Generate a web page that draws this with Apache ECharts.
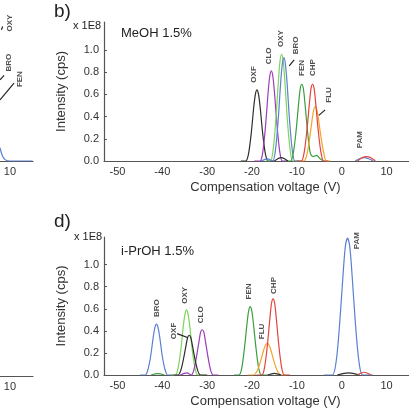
<!DOCTYPE html>
<html>
<head>
<meta charset="utf-8">
<script src="https://cdn.jsdelivr.net/npm/echarts@6/dist/echarts.min.js"></script>
<style>
  html, body { margin: 0; padding: 0; background: #fff; }
  #main { width: 409px; height: 409px; }
</style>
</head>
<body>
<div id="main"></div>
<script>
// axis ticks
var xTicks = [-50, -40, -30, -20, -10, 0, 10];
var yTicks = [0, 0.2, 0.4, 0.6, 0.8, 1.0];
var xTicksPart = [10];

// panel b) MeOH 1.5%  [CoV (V), intensity x1E8]
var bOXF = [[-22.5,0],[-21.4,0],[-20.8,0.06],[-20.2,0.24],[-19.6,0.49],[-19.25,0.60],[-18.9,0.64],[-18.55,0.60],[-18.2,0.49],[-17.6,0.24],[-17.0,0.06],[-16.4,0],[-15,0]];
var bCLO = [[-19.5,0],[-18.2,0],[-17.6,0.08],[-17.0,0.31],[-16.4,0.62],[-16.05,0.76],[-15.7,0.81],[-15.35,0.76],[-15.0,0.62],[-14.4,0.31],[-13.8,0.08],[-13.2,0],[-12,0]];
var bOXY = [[-17,0],[-15.9,0],[-15.3,0.10],[-14.7,0.36],[-14.1,0.73],[-13.75,0.90],[-13.4,0.96],[-13.05,0.90],[-12.7,0.73],[-12.1,0.36],[-11.5,0.10],[-10.9,0],[-9.5,0]];
var bBRO = [[-18,0],[-16.5,0.02],[-15.4,0],[-14.8,0.09],[-14.2,0.35],[-13.6,0.71],[-13.25,0.87],[-12.9,0.93],[-12.55,0.87],[-12.2,0.71],[-11.6,0.35],[-11.0,0.09],[-10.4,0],[-9,0]];
var bFEN = [[-12.5,0],[-11.4,0],[-10.8,0.07],[-10.2,0.26],[-9.6,0.52],[-9.25,0.65],[-8.9,0.69],[-8.55,0.65],[-8.2,0.52],[-7.6,0.26],[-7.0,0.07],[-6.4,0.04],[-5.6,0.05],[-4.8,0.02],[-4,0]];
var bCHP = [[-10,0],[-9.0,0],[-8.4,0.07],[-7.8,0.26],[-7.2,0.52],[-6.85,0.65],[-6.5,0.69],[-6.15,0.65],[-5.8,0.52],[-5.2,0.26],[-4.6,0.07],[-4.0,0],[-3,0]];
var bFLU = [[-9.5,0],[-8.4,0],[-7.8,0.05],[-7.2,0.19],[-6.6,0.37],[-6.25,0.46],[-5.9,0.49],[-5.55,0.46],[-5.2,0.38],[-4.6,0.21],[-4.0,0.07],[-3.4,0],[-2.5,0]];
var bPAMr = [[3.5,0],[4.5,0.03],[5.5,0.04],[6.5,0.03],[7.5,0]];
var bPAMb = [[3,0],[4,0.02],[5,0.03],[6,0.02],[7,0]];
var bSmallK = [[-15,0],[-13.5,0.03],[-12,0]];

// panel d) i-PrOH 1.5%
var dBRO = [[-45,0],[-43.8,0],[-43.2,0.05],[-42.6,0.17],[-42.0,0.35],[-41.65,0.43],[-41.3,0.46],[-40.95,0.43],[-40.6,0.35],[-40.0,0.17],[-39.4,0.05],[-38.8,0],[-37.5,0]];
var dOXY = [[-38,0],[-37.1,0],[-36.5,0.06],[-35.9,0.22],[-35.3,0.45],[-34.95,0.55],[-34.6,0.59],[-34.25,0.55],[-33.9,0.45],[-33.3,0.22],[-32.7,0.06],[-32.1,0],[-31,0]];
var dOXF = [[-37.5,0],[-36.5,0],[-35.9,0.04],[-35.3,0.14],[-34.7,0.27],[-34.35,0.34],[-34.0,0.36],[-33.65,0.34],[-33.3,0.27],[-32.7,0.14],[-32.1,0.04],[-31.5,0],[-30,0]];
var dCLO = [[-36,0],[-34.5,0.02],[-33.6,0],[-33.0,0.04],[-32.4,0.16],[-31.8,0.31],[-31.45,0.39],[-31.1,0.41],[-30.75,0.39],[-30.4,0.31],[-29.8,0.16],[-29.2,0.04],[-28.6,0],[-27.5,0]];
var dFEN = [[-24,0],[-22.9,0],[-22.3,0.06],[-21.7,0.24],[-21.1,0.47],[-20.75,0.58],[-20.4,0.62],[-20.05,0.58],[-19.7,0.47],[-19.1,0.24],[-18.5,0.06],[-17.9,0],[-16.5,0]];
var dFLU = [[-21,0],[-19.7,0],[-18.95,0.03],[-18.2,0.11],[-17.45,0.22],[-17.0,0.27],[-16.6,0.29],[-16.2,0.27],[-15.75,0.22],[-15.0,0.11],[-14.25,0.03],[-13.5,0],[-12.5,0]];
var dCHP = [[-19,0],[-17.8,0],[-17.2,0.07],[-16.6,0.26],[-16.0,0.52],[-15.65,0.65],[-15.3,0.69],[-14.95,0.65],[-14.6,0.52],[-14.0,0.26],[-13.4,0.07],[-12.8,0],[-11.5,0]];
var dPAM = [[-4,0],[-2.1,0],[-1.25,0.12],[-0.45,0.47],[0.35,0.94],[0.83,1.17],[1.3,1.24],[1.77,1.17],[2.25,0.94],[3.05,0.47],[3.85,0.12],[4.7,0],[7,0]];
var dSmallK = [[-1,0],[1.5,0.02],[4,0]];
var dSmallR = [[3.5,0],[5,0.025],[6.5,0]];
var dSmallG = [[-42.5,0],[-41,0.012],[-39.5,0]];
var dSmallK2 = [[-16.5,0],[-15,0.015],[-13.5,0]];

// left (cut-off) panels
var aTail = [[7.8,0.12],[8.3,0.05],[9,0.01],[10,0],[15,0]];

// peak names [name, CoV, intensity] and leader lines
var bNames = [['OXF',-19.6,0.70],['CLO',-16.2,0.865],['OXY',-13.4,1.02],['BRO',-10.2,0.955],['FEN',-8.75,0.76],['CHP',-6.3,0.76],['FLU',-2.8,0.52],['PAM',4.2,0.11]];
var dNames = [['BRO',-41.2,0.52],['OXY',-34.9,0.64],['OXF',-37.3,0.32],['CLO',-31.2,0.465],['FEN',-20.6,0.68],['FLU',-17.6,0.32],['CHP',-15.1,0.73],['PAM',3.5,1.135]];
var aNames = [['OXY',10.0,1.16],['BRO',9.8,0.80],['FEN',12.4,0.66]];
var bLeaders = [[[-11.7,0.855],[-10.6,0.91]],[[-5.1,0.41],[-3.7,0.46]]];
var dLeaders = [[[-36.7,0.375],[-34.4,0.34]]];
var aLeaders = [[[7.8,0.73],[8.7,0.77]],[[7.8,0.55],[10.9,0.70]],[[8.1,1.18],[8.4,1.21]]];

var C = {
  black: '#2e2e2e', purple: '#9c3cb8', lgreen: '#7fd35c', blue: '#5a7fd2',
  green: '#3b9f3f', red: '#e4433b', orange: '#f6a12c'
};
var FONT = '"Liberation Sans", Arial, sans-serif';

var myChart = echarts.init(document.getElementById('main'));

function curve(gi, color, data) {
  return {
    type: 'line', xAxisIndex: gi, yAxisIndex: gi, data: data,
    showSymbol: false, smooth: 0.3, silent: true,
    lineStyle: { color: color, width: 1.2 }
  };
}
function names(gi, list) {
  return {
    type: 'scatter', xAxisIndex: gi, yAxisIndex: gi, symbolSize: 1, silent: true,
    itemStyle: { color: 'transparent' },
    data: list.map(function (n) { return [n[1], n[2], n[0]]; }),
    label: {
      show: true, position: [0, 0], rotate: 90, align: 'left', verticalAlign: 'middle',
      formatter: function (p) { return p.data[2]; },
      fontSize: 8, fontWeight: 'bold', color: '#222', fontFamily: FONT
    },
    z: 5
  };
}
function leader(gi, pts) {
  return {
    type: 'line', xAxisIndex: gi, yAxisIndex: gi, data: pts, showSymbol: false, silent: true,
    lineStyle: { color: '#222', width: 1.2 }, z: 5
  };
}

function mainX(gi) {
  return {
    gridIndex: gi, type: 'value', min: -53, max: 15,
    axisLine: { onZero: false, lineStyle: { color: '#555', width: 1.2 } },
    axisTick: { show: false }, splitLine: { show: false },
    axisLabel: { customValues: xTicks, color: '#333', fontSize: 11, margin: 5, fontFamily: FONT },
    name: 'Compensation voltage (V)', nameLocation: 'middle', nameGap: 20,
    nameTextStyle: { fontSize: 13, color: '#333', fontFamily: FONT, padding: [0, 0, 0, 18] }
  };
}
function mainY(gi) {
  return {
    gridIndex: gi, type: 'value', min: 0, max: 1.25,
    axisLine: { show: true, onZero: false, lineStyle: { color: '#555', width: 1.2 } },
    axisTick: { show: true, inside: true, length: 3, customValues: yTicks, lineStyle: { color: '#555' } },
    splitLine: { show: false },
    axisLabel: { customValues: yTicks, color: '#333', fontSize: 11, margin: 5, fontFamily: FONT,
      formatter: function (v) { return v.toFixed(1); } },
    name: 'Intensity (cps)', nameLocation: 'middle', nameGap: 36, nameRotate: 90,
    nameTextStyle: { fontSize: 13, color: '#333', fontFamily: FONT }
  };
}
function partX(gi) {
  return {
    gridIndex: gi, type: 'value', min: 7.8, max: 15.1,
    axisLine: { onZero: false, lineStyle: { color: '#555', width: 1.2 } },
    axisTick: { show: false }, splitLine: { show: false },
    axisLabel: { customValues: xTicksPart, color: '#333', fontSize: 11, margin: 5, fontFamily: FONT }
  };
}
function partY(gi) {
  return { gridIndex: gi, type: 'value', min: 0, max: 1.25, show: false };
}

var series = [
  curve(0, C.blue, aTail),
  curve(1, C.black, bOXF), curve(1, C.purple, bCLO), curve(1, C.lgreen, bOXY),
  curve(1, C.blue, bBRO), curve(1, C.green, bFEN), curve(1, C.orange, bFLU),
  curve(1, C.red, bCHP), curve(1, C.blue, bPAMb), curve(1, C.red, bPAMr), curve(1, C.black, bSmallK),
  curve(3, C.blue, dBRO), curve(3, C.lgreen, dOXY), curve(3, C.purple, dCLO), curve(3, C.black, dOXF),
  curve(3, C.green, dFEN), curve(3, C.orange, dFLU), curve(3, C.red, dCHP), curve(3, C.blue, dPAM),
  curve(3, C.black, dSmallK), curve(3, C.red, dSmallR), curve(3, C.green, dSmallG), curve(3, C.black, dSmallK2),
  names(0, aNames), names(1, bNames), names(3, dNames)
];
aLeaders.forEach(function (l) { series.push(leader(0, l)); });
bLeaders.forEach(function (l) { series.push(leader(1, l)); });
dLeaders.forEach(function (l) { series.push(leader(3, l)); });

function txt(left, top, text, size) {
  return { type: 'text', left: left, top: top,
    style: { text: text, fontSize: size, fill: '#222', fontFamily: FONT } };
}

var option = {
  animation: false,
  grid: [
    { left: 0, top: 22, width: 33, height: 139 },
    { left: 104, top: 22, width: 306, height: 139 },
    { left: 0, top: 237, width: 33, height: 139 },
    { left: 104, top: 237, width: 306, height: 139 }
  ],
  xAxis: [partX(0), mainX(1), partX(2), mainX(3)],
  yAxis: [partY(0), mainY(1), partY(2), mainY(3)],
  graphic: [
    txt(54, 2, 'b)', 19), txt(73, 20, 'x 1E8', 11), txt(121, 27, 'MeOH 1.5%', 13),
    txt(54, 212, 'd)', 19), txt(74, 231, 'x 1E8', 11), txt(121, 245, 'i-PrOH 1.5%', 13)
  ],
  series: series
};

myChart.setOption(option);
</script>
</body>
</html>
